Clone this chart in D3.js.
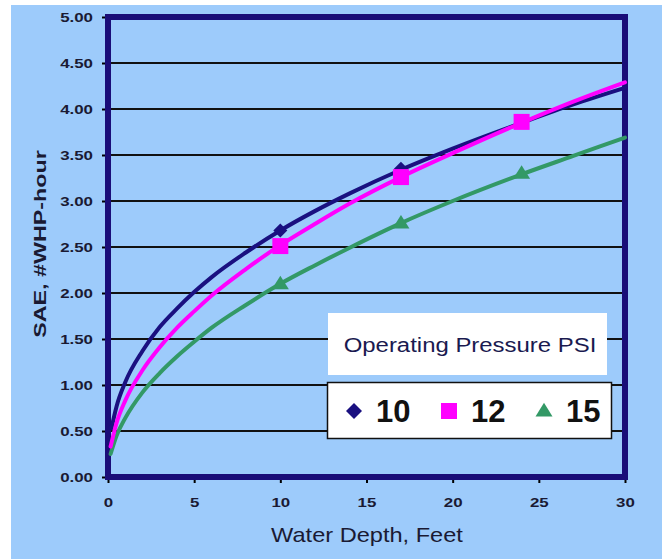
<!DOCTYPE html>
<html><head><meta charset="utf-8">
<script src="https://cdn.jsdelivr.net/npm/d3@7"></script>
<style>
html,body{margin:0;padding:0;background:#fff;}
svg{display:block;}
text{font-family:"Liberation Sans",Arial,sans-serif;}
</style></head>
<body>
<script>
// ---- data ----
const xTicks = [0, 5, 10, 15, 20, 25, 30];
const yTicks = [0, 0.5, 1, 1.5, 2, 2.5, 3, 3.5, 4, 4.5, 5];
const legendTitle = "Operating Pressure PSI";
const seriesNames = ["10", "12", "15"];
const markerDepths = [10, 17, 24];
const markers10 = [2.68, 3.35, 3.87];
const markers12 = [2.51, 3.26, 3.86];
const markers15 = [2.10, 2.76, 3.30];
// trend curves
const curveX10 = [0.2, 0.5, 1, 2, 3, 4, 5, 6, 8, 10, 12, 14, 17, 20, 24, 27, 30];
const curveY10 = [0.53, 0.77, 1.03, 1.37, 1.63, 1.83, 2.01, 2.17, 2.44, 2.68, 2.89, 3.08, 3.34, 3.57, 3.85, 4.05, 4.23];
const curveX12 = [0.15, 0.5, 1, 2, 3, 4, 5, 6, 8, 10, 12, 14, 17, 20, 24, 27, 30];
const curveY12 = [0.33, 0.59, 0.83, 1.16, 1.41, 1.62, 1.80, 1.97, 2.26, 2.52, 2.75, 2.97, 3.26, 3.52, 3.85, 4.08, 4.29];
const curveX15 = [0.15, 0.5, 1, 2, 3, 4, 5, 6, 8, 10, 12, 14, 17, 20, 24, 27, 30];
const curveY15 = [0.25, 0.45, 0.64, 0.92, 1.13, 1.31, 1.47, 1.62, 1.87, 2.10, 2.30, 2.49, 2.76, 3.00, 3.29, 3.49, 3.69];

const W = 666, H = 559;
const colors = ["#1a1080", "#ff00ff", "#339966"];
const borderColor = "#1a0d78";
const textColor = "#1a1a33";

const svg = d3.select("body").append("svg").attr("width", W).attr("height", H);
svg.append("rect").attr("x", 11).attr("y", 5).attr("width", 651).attr("height", H - 5).attr("fill", "#9dcbfb");

const m = {left: 108, right: 625, top: 17, bottom: 477};
const x = d3.scaleLinear().domain([0, 30]).range([m.left, m.right]);
const y = d3.scaleLinear().domain([0, 5]).range([m.bottom, m.top]);

// marker shapes
function markerPath(i, s) {
  if (i === 0) return `M0,${-s}L${s},0L0,${s}L${-s},0Z`;
  if (i === 1) return `M${-s},${-s}H${s}V${s}H${-s}Z`;
  const h = s * 1.6;
  return `M0,${-h * 0.6}L${s},${h * 0.4}L${-s},${h * 0.4}Z`;
}

// gridlines
svg.append("g").selectAll("line").data(yTicks.slice(1, -1)).join("line")
  .attr("x1", m.left).attr("x2", m.right)
  .attr("y1", d => y(d)).attr("y2", d => y(d))
  .attr("stroke", "#111").attr("stroke-width", 2);

// axes
const kx = 1.3; // horizontal stretch of the reference's text
const yAxis = svg.append("g").attr("transform", `translate(${m.left},0)`)
  .call(d3.axisLeft(y).tickValues(yTicks).tickFormat(d3.format(".2f")).tickSize(6).tickPadding(9));
const xAxis = svg.append("g").attr("transform", `translate(0,${m.bottom})`)
  .call(d3.axisBottom(x).tickValues(xTicks).tickFormat(d3.format("d")).tickSize(6).tickPadding(15));
[yAxis, xAxis].forEach(g => {
  g.select(".domain").remove();
  g.selectAll(".tick line").attr("stroke", "#000").attr("stroke-width", 2);
  g.selectAll(".tick text").attr("fill", textColor).attr("font-size", 13).attr("font-weight", "bold")
    .attr("transform", `scale(${kx},1)`);
});
yAxis.selectAll(".tick text").attr("x", -15 / kx);

// plot border
svg.append("rect").attr("x", m.left).attr("y", m.top)
  .attr("width", m.right - m.left).attr("height", m.bottom - m.top)
  .attr("fill", "none").attr("stroke", borderColor).attr("stroke-width", 6);

// curves
const line = d3.line().x(d => x(d[0])).y(d => y(d[1])).curve(d3.curveMonotoneX);
const curves = [d3.zip(curveX10, curveY10), d3.zip(curveX12, curveY12), d3.zip(curveX15, curveY15)];
const markerSets = [markers10, markers12, markers15];
const markerSize = [7, 8, 8.5];
[2, 0, 1].forEach(i => {
  svg.append("path").attr("d", line(curves[i])).attr("fill", "none")
    .attr("stroke", colors[i]).attr("stroke-width", 4).attr("stroke-linecap", "round");
});
[2, 0, 1].forEach(i => {
  svg.append("g").selectAll("path").data(d3.zip(markerDepths, markerSets[i])).join("path")
    .attr("transform", d => `translate(${x(d[0])},${y(d[1])})`)
    .attr("d", markerPath(i, markerSize[i])).attr("fill", colors[i]);
});

// axis titles
svg.append("text").attr("transform", "translate(367,542) scale(1.18,1)").attr("text-anchor", "middle")
  .attr("font-size", 20).attr("fill", textColor).text("Water Depth, Feet");
svg.append("text").attr("transform", "translate(46,244) rotate(-90) scale(1.37,1)").attr("text-anchor", "middle")
  .attr("font-size", 17).attr("font-weight", "bold").attr("fill", textColor).text("SAE, #WHP-hour");

// legend
svg.append("rect").attr("x", 328).attr("y", 313).attr("width", 279).attr("height", 62).attr("fill", "#fff");
svg.append("text").attr("transform", "translate(470,352) scale(1.14,1)").attr("text-anchor", "middle")
  .attr("font-size", 21).attr("fill", "#1a1a50").text(legendTitle);
svg.append("rect").attr("x", 327.5).attr("y", 382.5).attr("width", 284).attr("height", 56)
  .attr("fill", "#fff").attr("stroke", "#111").attr("stroke-width", 1.5);
const legX = [354, 449, 544];
const legSize = [8, 8, 8.5];
seriesNames.forEach((n, i) => {
  svg.append("path").attr("transform", `translate(${legX[i]},411)`)
    .attr("d", markerPath(i, legSize[i])).attr("fill", colors[i]);
  svg.append("text").attr("x", legX[i] + 22).attr("y", 422).attr("font-size", 31)
    .attr("font-weight", "bold").attr("fill", "#111").text(n);
});
</script>
</body></html>
